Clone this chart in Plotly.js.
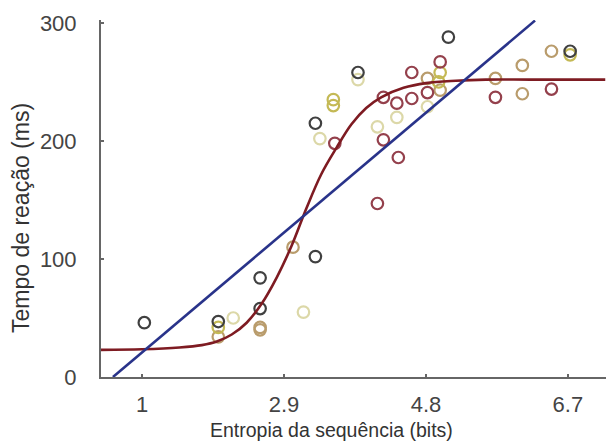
<!DOCTYPE html>
<html>
<head>
<meta charset="utf-8">
<script src="https://cdn.plot.ly/plotly-3.0.1.min.js"></script>
<style>html,body{margin:0;padding:0;background:#fff;}#chart{width:606px;height:441px;}</style>
</head>
<body>
<div id="chart"></div>
<script>
// Tick values / labels
const xTickVals = [1, 2.9, 4.8, 6.7];
const xTickText = ["1", "2.9", "4.8", "6.7"];
const yTickVals = [0, 100, 200, 300];

// Observations grouped by marker colour (entropy in bits, reaction time in ms)
const darkX = [1.03, 2.02, 2.58, 2.58, 3.32, 3.32, 3.89, 5.10, 6.73];
const darkY = [46, 47, 84, 58, 102, 215, 258, 288, 276];

const maroonX = [3.58, 4.23, 4.23, 4.43, 4.41, 4.61, 4.61, 4.99, 4.82, 5.73, 6.48, 4.15];
const maroonY = [198, 237, 201, 186, 232, 258, 236, 267, 241, 237, 244, 147];

const tanX = [2.02, 2.58, 2.58, 3.02, 4.82, 6.09, 6.09, 6.48, 5.73, 4.99];
const tanY = [34, 42, 40, 110, 253, 264, 240, 276, 253, 243];

const yellowX = [3.56, 3.56, 4.99, 4.97, 2.02, 6.73];
const yellowY = [235, 230, 258, 250, 42, 273];

const lightX = [3.38, 4.15, 3.16, 2.22, 3.89, 4.41, 4.82];
const lightY = [202, 212, 55, 50, 252, 220, 229];

// Linear fit (blue) end points
const linX = [0.61, 6.26];
const linY = [0, 302];

// Sigmoid fit (red)
const sigX = [0.45, 1.0, 1.5, 1.8, 2.0, 2.2, 2.4, 2.6, 2.8, 3.0, 3.2, 3.4, 3.6, 3.8, 4.0, 4.2, 4.5, 4.8, 5.2, 5.6, 6.2, 7.2];
const sigY = [23, 23.5, 25, 27, 30, 36, 46, 62, 84, 111, 143, 172, 194, 214, 228, 237, 245, 249, 251, 252, 252, 252];

function pts(x, y, color) {
  return {
    x: x, y: y, type: 'scatter', mode: 'markers', showlegend: false, hoverinfo: 'skip',
    marker: {symbol: 'circle-open', size: 11.5, color: color, line: {width: 2.2, color: color}}
  };
}

const traces = [
  pts(lightX, lightY, '#dcd8a8'),
  pts(tanX, tanY, '#b99c6c'),
  pts(yellowX, yellowY, '#c4b955'),
  pts(maroonX, maroonY, '#94404c'),
  pts(darkX, darkY, '#404040'),
  {x: sigX, y: sigY, type: 'scatter', mode: 'lines', showlegend: false,
   line: {color: '#7e1b22', width: 2.6, shape: 'spline', smoothing: 1}},
  {x: linX, y: linY, type: 'scatter', mode: 'lines', showlegend: false,
   line: {color: '#29338a', width: 2.6}}
];

const layout = {
  width: 606, height: 441,
  margin: {l: 101, r: 0, t: 20, b: 64},
  paper_bgcolor: '#ffffff', plot_bgcolor: '#ffffff',
  showlegend: false,
  font: {family: 'Liberation Sans, Arial, sans-serif', color: '#444'},
  xaxis: {
    range: [0.45, 7.21], showgrid: false, zeroline: false,
    showline: true, linecolor: '#666', linewidth: 2,
    tickmode: 'array', tickvals: xTickVals, ticktext: xTickText,
    ticks: 'inside', ticklen: 3, tickwidth: 1.5, tickcolor: '#666',
    tickfont: {size: 22, color: '#444', family: 'Liberation Sans, Arial, sans-serif'},
    ticklabelstandoff: 7
  },
  yaxis: {
    range: [0, 302.5], showgrid: false, zeroline: false,
    showline: true, linecolor: '#666', linewidth: 2,
    tickmode: 'array', tickvals: yTickVals,
    ticks: 'inside', ticklen: 3, tickwidth: 1.5, tickcolor: '#666',
    tickfont: {size: 22, color: '#444', family: 'Liberation Sans, Arial, sans-serif'},
    ticklabelstandoff: 18
  },
  annotations: [
    {text: 'Entropia da sequência (bits)', xref: 'paper', yref: 'paper',
     x: (331 - 101) / 505, y: 0, yshift: -53, xanchor: 'center', yanchor: 'middle',
     showarrow: false, font: {family: 'Liberation Sans, Arial, sans-serif', size: 19.5, color: '#333'}},
    {text: 'Tempo de reação (ms)', xref: 'paper', yref: 'paper',
     x: 0, xshift: -80, y: (377 - 218) / 357, xanchor: 'center', yanchor: 'middle', textangle: -90,
     showarrow: false, font: {family: 'Liberation Sans, Arial, sans-serif', size: 23, color: '#333'}}
  ]
};

Plotly.newPlot('chart', traces, layout, {staticPlot: true, displayModeBar: false});
</script>
</body>
</html>
